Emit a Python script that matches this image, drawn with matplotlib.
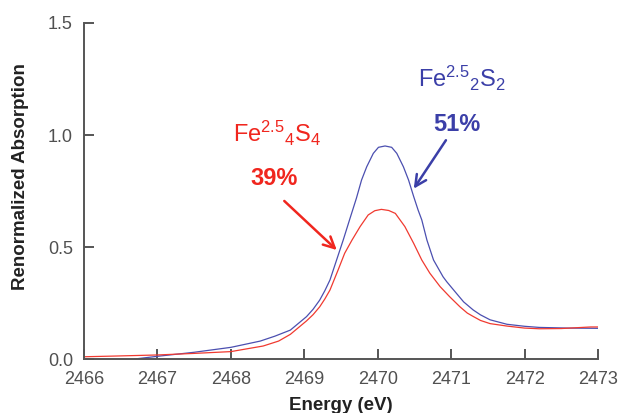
import matplotlib
matplotlib.use("Agg")
import matplotlib.pyplot as plt

plt.rcParams['font.family'] = ['Liberation Sans', 'DejaVu Sans']
plt.rcParams['mathtext.default'] = 'regular'

# Fe(2.5)2S2 (blue)
blue_E = [2466.69, 2467.00, 2467.50, 2468.00, 2468.40, 2468.60, 2468.81, 2469.03,
          2469.12, 2469.21, 2469.28, 2469.35, 2469.44, 2469.53, 2469.62, 2469.71,
          2469.78, 2469.85, 2469.94, 2470.01, 2470.10, 2470.19, 2470.26, 2470.35,
          2470.42, 2470.49, 2470.55, 2470.60, 2470.67, 2470.76, 2470.89, 2470.94,
          2471.08, 2471.17, 2471.30, 2471.40, 2471.53, 2471.76, 2472.00, 2472.20,
          2472.60, 2473.00]
blue_A = [0.000, 0.012, 0.030, 0.052, 0.080, 0.102, 0.129, 0.189,
          0.222, 0.263, 0.305, 0.353, 0.442, 0.531, 0.625, 0.718,
          0.799, 0.858, 0.918, 0.945, 0.951, 0.945, 0.918, 0.858,
          0.799, 0.725, 0.665, 0.621, 0.531, 0.442, 0.367, 0.345,
          0.290, 0.255, 0.219, 0.197, 0.175, 0.155, 0.146, 0.141,
          0.138, 0.137]

# Fe(2.5)4S4 (red)
red_E = [2466.00, 2466.40, 2467.00, 2467.50, 2468.00, 2468.44, 2468.65, 2468.81,
         2469.03, 2469.12, 2469.21, 2469.28, 2469.35, 2469.46, 2469.55, 2469.65,
         2469.76, 2469.87, 2469.96, 2470.05, 2470.15, 2470.24, 2470.37, 2470.49,
         2470.60, 2470.71, 2470.85, 2470.98, 2471.12, 2471.22, 2471.30, 2471.40,
         2471.53, 2471.76, 2472.00, 2472.20, 2472.50, 2472.90, 2473.00]
red_A = [0.010, 0.013, 0.018, 0.025, 0.033, 0.058, 0.080, 0.110,
         0.170, 0.198, 0.233, 0.268, 0.308, 0.397, 0.472, 0.531,
         0.591, 0.643, 0.662, 0.668, 0.663, 0.650, 0.591, 0.516,
         0.442, 0.383, 0.323, 0.278, 0.233, 0.205, 0.190, 0.172,
         0.158, 0.147, 0.138, 0.135, 0.136, 0.143, 0.143]

x_ticks = [2466, 2467, 2468, 2469, 2470, 2471, 2472, 2473]
y_ticks = [0.0, 0.5, 1.0, 1.5]
y_ticklabels = ['0.0', '0.5', '1.0', '1.5']

blue = '#3b3fa8'
red = '#f0261e'

fig = plt.figure(figsize=(6.19, 4.13), dpi=100)
ax = fig.add_axes([84/619, 54/413, (598-84)/619, (359-23)/413])

ax.plot(blue_E, blue_A, color='#4b4fb0', lw=0.9)
ax.plot(red_E, red_A, color='#f03a30', lw=0.9)

ax.set_xlim(2466, 2473)
ax.set_ylim(0, 1.5)
ax.set_xticks(x_ticks)
ax.set_xticklabels([str(t) for t in x_ticks])
ax.set_yticks(y_ticks)
ax.set_yticklabels(y_ticklabels)

for s in ['top', 'right']:
    ax.spines[s].set_visible(False)
for s in ['left', 'bottom']:
    ax.spines[s].set_color('#555555')
    ax.spines[s].set_linewidth(1.4)
ax.tick_params(direction='in', length=7, width=1.4, color='#555555',
               labelsize=13, labelcolor='#505050')
ax.tick_params(axis='x', pad=9)
ax.tick_params(axis='y', pad=8)

ax.set_xlabel('Energy (eV)', fontsize=13.5, fontweight='bold', color='#222222', labelpad=6)
ax.set_ylabel('Renormalized Absorption', fontsize=13.5, fontweight='bold', color='#222222',
              va='center')
ax.yaxis.set_label_coords(-0.1245, 0.542)

ax.text(2468.63, 1.009, r'Fe$^{2.5}{}_{4}$S$_{4}$', color=red, fontsize=17, ha='center', va='center')
ax.text(2468.59, 0.808, '39%', color=red, fontsize=17, fontweight='bold', ha='center', va='center')
ax.annotate('', xy=(2469.47, 0.478), xytext=(2468.70, 0.714),
            arrowprops=dict(arrowstyle='->', color=red, lw=1.8, mutation_scale=20))

ax.text(2471.15, 1.254, r'Fe$^{2.5}{}_{2}$S$_{2}$', color=blue, fontsize=17, ha='center', va='center')
ax.text(2471.08, 1.045, '51%', color=blue, fontsize=17, fontweight='bold', ha='center', va='center')
ax.annotate('', xy=(2470.47, 0.75), xytext=(2470.95, 0.987),
            arrowprops=dict(arrowstyle='->', color=blue, lw=1.8, mutation_scale=20))

fig.savefig('out.png', dpi=100)
